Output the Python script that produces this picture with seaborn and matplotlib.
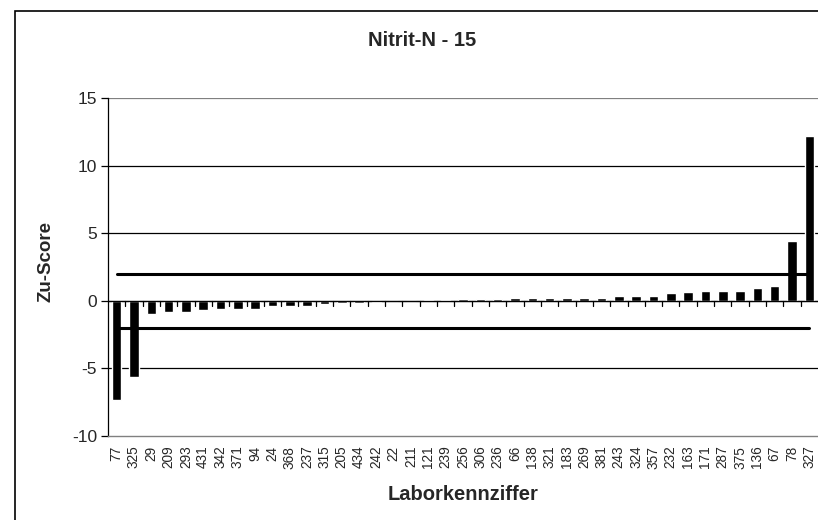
import matplotlib
matplotlib.use("Agg")
import matplotlib.pyplot as plt
import numpy as np
import pandas as pd
import seaborn as sns
from matplotlib.patches import Rectangle

labs = ["77", "325", "29", "209", "293", "431", "342", "371", "94", "24",
        "368", "237", "315", "205", "434", "242", "22", "211", "121", "239",
        "256", "306", "236", "66", "138", "321", "183", "269", "381", "243",
        "324", "357", "232", "163", "171", "287", "375", "136", "67", "78", "327"]
zu_score = [-7.35, -5.65, -0.94, -0.86, -0.85, -0.66, -0.57, -0.57, -0.57, -0.42,
            -0.35, -0.35, -0.25, -0.17, -0.15, -0.12, -0.02, 0.0, 0.05, 0.08,
            0.12, 0.12, 0.12, 0.22, 0.22, 0.22, 0.22, 0.22, 0.22, 0.35,
            0.35, 0.35, 0.57, 0.67, 0.74, 0.74, 0.74, 0.94, 1.13, 4.44, 12.2]
limits = [2, -2]

df = pd.DataFrame({"Labor": labs, "Zu": zu_score})

sns.set_style("white")
plt.rcParams["font.family"] = ["Liberation Sans", "DejaVu Sans"]
plt.rcParams["axes.unicode_minus"] = False

fig = plt.figure(figsize=(8.18, 5.2), dpi=100)
ax = fig.add_axes([108 / 818, 1 - 436 / 520, 710 / 818, 338 / 520])

# outer chart border (runs off the right and bottom edges)
fig.patches.append(Rectangle((15 / 818, -0.05), 1.2, 1 - 11 / 520 + 0.05,
                             transform=fig.transFigure, fill=False,
                             edgecolor="black", linewidth=1.2))

ax.set_ylim(-10, 15)
ax.set_yticks(np.arange(-10, 16, 5))
for y in np.arange(-5, 16, 5):
    ax.axhline(y, color="black" if y != 15 else "#808080", linewidth=0.9, zorder=0)

sns.barplot(data=df, x="Labor", y="Zu", color="black", width=0.55,
            saturation=1, ax=ax, zorder=3)

n = len(labs)
for lim in limits:
    ax.plot([0, n - 1], [lim, lim], color="black", linewidth=2.2, zorder=4)

ax.set_xlim(-0.5, n - 0.5)

# zero axis with tick marks between categories
ax.axhline(0, color="black", linewidth=0.9, zorder=5)
for b in np.arange(0.5, n - 1, 1.0):
    ax.plot([b, b], [0, -0.35], color="black", linewidth=0.9, zorder=5)

for side in ["top", "right"]:
    ax.spines[side].set_visible(False)
ax.spines["left"].set_color("black")
ax.spines["left"].set_linewidth(0.9)
ax.spines["bottom"].set_color("#808080")
ax.spines["bottom"].set_linewidth(1.0)

ax.tick_params(axis="y", direction="out", length=5, width=0.9, color="black",
               labelsize=12.5, pad=3, left=True)
ax.tick_params(axis="x", length=0, pad=7)
for t in ax.get_xticklabels():
    t.set_rotation(90)
    t.set_fontsize(9.8)
    t.set_family(["Liberation Sans Narrow", "Liberation Sans"])

ax.set_xlabel("Laborkennziffer", fontsize=14.5, fontweight="bold", va="center")
ax.xaxis.set_label_coords(0.5, -(494 - 436) / 338)
ax.set_ylabel("Zu-Score", fontsize=13.5, fontweight="bold", va="center")
ax.yaxis.set_label_coords((46 - 108) / 710, 1 - (262 - 98) / 338)
fig.text(422 / 818, 1 - 40 / 520, "Nitrit-N - 15", ha="center", va="center",
         fontsize=14.5, fontweight="bold")

fig.savefig("out.png", dpi=100, facecolor="white")
